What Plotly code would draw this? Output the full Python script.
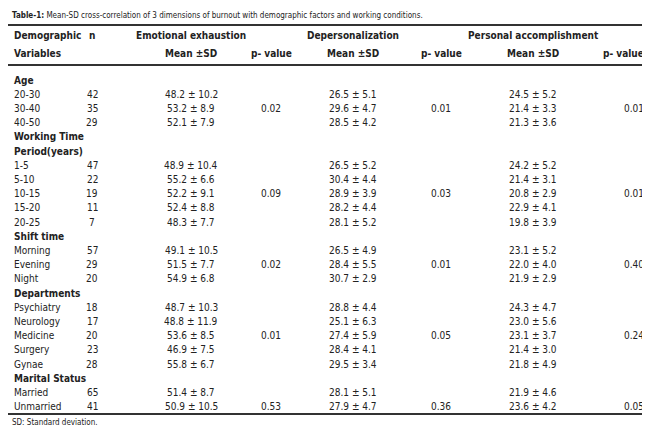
import plotly.graph_objects as go

FONT = "DejaVu Sans Condensed, Liberation Sans Narrow, sans-serif"

title_text = "<b>Table-1:</b> Mean-SD cross-correlation of 3 dimensions of burnout with demographic factors and working conditions."

# rows: (label, n, EE mean±SD, EE p, DP mean±SD, DP p, PA mean±SD, PA p); group rows have n=None
rows = [
    ("Age", None, "", "", "", "", "", ""),
    ("20-30", 42, "48.2 ± 10.2", "", "26.5 ± 5.1", "", "24.5 ± 5.2", ""),
    ("30-40", 35, "53.2 ± 8.9", "0.02", "29.6 ± 4.7", "0.01", "21.4 ± 3.3", "0.01"),
    ("40-50", 29, "52.1 ± 7.9", "", "28.5 ± 4.2", "", "21.3 ± 3.6", ""),
    ("Working Time", None, "", "", "", "", "", ""),
    ("Period(years)", None, "", "", "", "", "", ""),
    ("1-5", 47, "48.9 ± 10.4", "", "26.5 ± 5.2", "", "24.2 ± 5.2", ""),
    ("5-10", 22, "55.2 ± 6.6", "", "30.4 ± 4.4", "", "21.4 ± 3.1", ""),
    ("10-15", 19, "52.2 ± 9.1", "0.09", "28.9 ± 3.9", "0.03", "20.8 ± 2.9", "0.01"),
    ("15-20", 11, "52.4 ± 8.8", "", "28.2 ± 4.4", "", "22.9 ± 4.1", ""),
    ("20-25", 7, "48.3 ± 7.7", "", "28.1 ± 5.2", "", "19.8 ± 3.9", ""),
    ("Shift time", None, "", "", "", "", "", ""),
    ("Morning", 57, "49.1 ± 10.5", "", "26.5 ± 4.9", "", "23.1 ± 5.2", ""),
    ("Evening", 29, "51.5 ± 7.7", "0.02", "28.4 ± 5.5", "0.01", "22.0 ± 4.0", "0.40"),
    ("Night", 20, "54.9 ± 6.8", "", "30.7 ± 2.9", "", "21.9 ± 2.9", ""),
    ("Departments", None, "", "", "", "", "", ""),
    ("Psychiatry", 18, "48.7 ± 10.3", "", "28.8 ± 4.4", "", "24.3 ± 4.7", ""),
    ("Neurology", 17, "48.8 ± 11.9", "", "25.1 ± 6.3", "", "23.0 ± 5.6", ""),
    ("Medicine", 20, "53.6 ± 8.5", "0.01", "27.4 ± 5.9", "0.05", "23.1 ± 3.7", "0.24"),
    ("Surgery", 23, "46.9 ± 7.5", "", "28.4 ± 4.1", "", "21.4 ± 3.0", ""),
    ("Gynae", 28, "55.8 ± 6.7", "", "29.5 ± 3.4", "", "21.8 ± 4.9", ""),
    ("Marital Status", None, "", "", "", "", "", ""),
    ("Married", 65, "51.4 ± 8.7", "", "28.1 ± 5.1", "", "21.9 ± 4.6", ""),
    ("Unmarried", 41, "50.9 ± 10.5", "0.53", "27.9 ± 4.7", "0.36", "23.6 ± 4.2", "0.05"),
]

col_x = [4, 84, 183, 263, 345, 433, 525, 638]
col_anchor = ["left", "center", "center", "center", "center", "center", "center", "right"]
row_y0, row_step = 72, 14.2
fs = 10

fig = go.Figure()
ann = []


def txt(x, y, s, anchor="left", size=fs, bold=False):
    ann.append(dict(x=x, y=y, text=f"<b>{s}</b>" if bold else s, xanchor=anchor,
                    yanchor="middle", showarrow=False, font=dict(size=size, color="#222", family=FONT)))


txt(2, 7, title_text, size=8)
txt(4, 27, "Demographic", bold=True)
txt(4, 45, "Variables", bold=True)
txt(84, 27, "n", "center", bold=True)
txt(183, 27, "Emotional exhaustion", "center", bold=True)
txt(345, 27, "Depersonalization", "center", bold=True)
txt(525, 27, "Personal accomplishment", "center", bold=True)
for cx in (183, 345, 525):
    txt(cx, 45, "Mean ±SD", "center", bold=True)
for cx, a in ((263, "center"), (433, "center"), (638, "right")):
    txt(cx, 45, "p- value", a, bold=True)

for i, r in enumerate(rows):
    y = row_y0 + i * row_step
    if r[1] is None:
        txt(4, y, r[0], bold=True)
        continue
    vals = [r[0], str(r[1])] + list(r[2:])
    for x, a, v in zip(col_x, col_anchor, vals):
        if v:
            txt(x, y, v, a)

txt(2, 414, "SD: Standard deviation.", size=8)

shapes = [
    dict(type="line", x0=0, x1=650, y0=17, y1=17, line=dict(color="#333", width=2)),
    dict(type="line", x0=0, x1=650, y0=57, y1=57, line=dict(color="#333", width=2)),
    dict(type="line", x0=0, x1=650, y0=406, y1=406, line=dict(color="#333", width=2)),
]

fig.update_layout(
    width=650, height=425, margin=dict(l=0, r=0, t=0, b=0),
    plot_bgcolor="white", paper_bgcolor="white",
    xaxis=dict(range=[0, 650], visible=False, fixedrange=True),
    yaxis=dict(range=[425, 0], visible=False, fixedrange=True),
    annotations=ann, shapes=shapes, showlegend=False,
)
fig.write_html("out.html")
